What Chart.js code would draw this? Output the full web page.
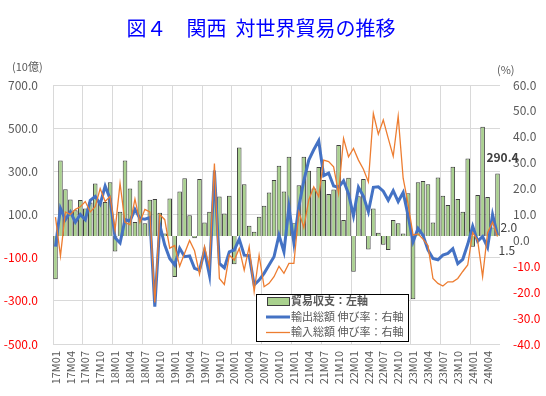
<!DOCTYPE html>
<html>
<head>
<meta charset="utf-8">
<script src="https://cdn.jsdelivr.net/npm/chart.js@4.4.1/dist/chart.umd.min.js"></script>
<style>
html, body { margin: 0; padding: 0; background: #fff; }
#wrap { width: 546px; height: 396px; }
</style>
</head>
<body>
<div id="wrap"><canvas id="chart" width="546" height="396"></canvas></div>
<script>
// 17M01 .. 24M06
const YEARS = ["17", "18", "19", "20", "21", "22", "23", "24"];
const MONTHS = ["01", "02", "03", "04", "05", "06", "07", "08", "09", "10", "11", "12"];
const LAST_MONTH_COUNT = 6;

// 貿易収支 (10億円)
const BALANCE = [
    -200, 350, 217, 170, 120, 167, 128, 156, 244, 156, 158, 250,
    -72, 113, 350, 221, 65, 257, 60, 168, 172, 108, 12, 174,
    -190, 206, 268, 97, -10, 265, 63, 113, 194, 183, 105, 187,
    -130, 410, 240, 48, 20, 90, 141, 202, 260, 326, 206, 368,
    60, 236, 368, 303, 221, 320, 260, 195, 216, 422, 74, 270,
    -165, 185, 265, -62, 128, 15, -40, -65, 74, 59, 12, 198,
    -293, 250, 255, 240, 63, 272, 187, 144, 321, 172, 113, 360,
    -49, 190, 507, 181, 40, 290.4
];
// 輸出総額 伸び率 (%)
const EXPORT_GROWTH = [
    -2.4, 12.4, 8, 11, 7, 10, 8, 15.5, 17, 14, 21, 16,
    1, -1, 8, 7.5, 12, 8.5, 8.2, 8.8, -25.6, 6, -1.8, -7,
    -9.5, -3, -6.3, -6, -10.8, -11.5, -4, -13.4, 27, -8.9, -10.6, -4.4,
    -3.7, 0.5, -5.7, -5.9, -17.2, -15.3, -12.7, -9.5, -6.3, 2, -4.4, 13,
    -1, 13, 23, 31, 35, 38.5, 25, 26, 21, 20.5, 23, 18,
    9.5, 20.5, 17, 11, 20.5, 20.7, 19, 15.5, 19.2, 15, 18.5, 9.5,
    -0.5, 4.6, 2, -3.7, -7, -7.5, -5.7, -5, -3.2, -9, -7.3, -1.5,
    5.5, -0.3, 1.5, -2.7, 10, 2.0
];
// 輸入総額 伸び率 (%)
const IMPORT_GROWTH = [
    9, -6, 11, 10, 12, 13, 15, 11, 13, 20, 15, 17,
    4, 22, 7, 6, 16, 7, 12, 11, -24, 10, 8, -3,
    -2, -10, -5, 0, -4, -13, -2.4, -10.2, 29.7, -14.7, -17, -5.7,
    -7.6, -3.1, -11.5, -2.4, -19.8, -5.7, -17.9, -16.6, -14, -10, -12.7, -8.9,
    -8.9, 11, 5, 15.6, 20.7, 16.9, 31, 30.4, 28.4, 18.1, 39.4, 32.3,
    35.5, 31, 27.5, 22.6, 49, 41, 46.5, 39.4, 32.5, 48, 24, 14,
    2, 2.5, 0.5, -2, -14.7, -16.6, -17.6, -16, -16, -14.7, -12, -9.5,
    3, 0, -14, 3, 7, 1.5
];

const SERIES_NAMES = ["貿易収支：左軸", "輸出総額 伸び率：右軸", "輸入総額 伸び率：右軸"];
const TITLE = "図４　関西  対世界貿易の推移";

const FONT = "'Noto Sans CJK JP', 'Noto Sans', sans-serif";
const TEXTCOLOR = "#595959";
const GRIDCOLOR = "#d9d9d9";
const NEGCOLOR = "#ff0000";
const BARCOLOR = "#a9d18e";
const BARBORDER = "#3f3f3f";
const BLUE = "#4472c4";
const ORANGE = "#ed7d31";

function getLabels() {
    const res = [];
    YEARS.forEach((y, yi) => {
        const count = yi === YEARS.length - 1 ? LAST_MONTH_COUNT : MONTHS.length;
        for (let m = 0; m < count; m++) {
            res.push(y + "M" + MONTHS[m]);
        }
    });
    return res;
}

const overlay = {
    id: "overlay",
    afterDatasetsDraw(chart) {
        const ctx = chart.ctx;
        ctx.save();
        ctx.textBaseline = "middle";

        // value labels on the last points
        const bar = chart.getDatasetMeta(0).data;
        const lastBar = bar[bar.length - 1];
        ctx.font = "bold 12px " + FONT;
        ctx.fillStyle = "#404040";
        ctx.textAlign = "center";
        ctx.fillText(BALANCE[BALANCE.length - 1].toFixed(1), lastBar.x + 5, lastBar.y - 16);

        ctx.font = "12px " + FONT;
        ctx.textAlign = "left";
        const ex = chart.getDatasetMeta(1).data;
        const lastEx = ex[ex.length - 1];
        ctx.fillText(EXPORT_GROWTH[EXPORT_GROWTH.length - 1].toFixed(1), lastEx.x + 3, lastEx.y - 8);
        const im = chart.getDatasetMeta(2).data;
        const lastIm = im[im.length - 1];
        ctx.fillText(IMPORT_GROWTH[IMPORT_GROWTH.length - 1].toFixed(1), lastIm.x + 1, lastIm.y + 14);
        ctx.restore();
    },
    afterDraw(chart) {
        const ctx = chart.ctx;
        ctx.save();
        ctx.textBaseline = "middle";

        // title
        ctx.font = "20px " + FONT;
        ctx.fillStyle = "#0000ff";
        ctx.textAlign = "center";
        ctx.fillText(TITLE, 261, 28);

        // axis units
        ctx.font = "11px " + FONT;
        ctx.fillStyle = TEXTCOLOR;
        ctx.textAlign = "left";
        ctx.fillText("(10億)", 12, 67);
        ctx.fillText("(%)", 497, 70);

        // legend box
        const bx = 256, by = 294, bw = 152, bh = 47;
        ctx.fillStyle = "#fff";
        ctx.fillRect(bx, by, bw, bh);
        ctx.strokeStyle = "#000";
        ctx.lineWidth = 1;
        ctx.strokeRect(bx + 0.5, by + 0.5, bw, bh);

        ctx.fillStyle = BARCOLOR;
        ctx.fillRect(267, 297, 22, 8);
        ctx.strokeStyle = BARBORDER;
        ctx.strokeRect(267.5, 297.5, 22, 8);

        ctx.lineWidth = 3;
        ctx.strokeStyle = BLUE;
        ctx.beginPath();
        ctx.moveTo(266, 317);
        ctx.lineTo(290, 317);
        ctx.stroke();

        ctx.lineWidth = 1.3;
        ctx.strokeStyle = ORANGE;
        ctx.beginPath();
        ctx.moveTo(266, 332.5);
        ctx.lineTo(290, 332.5);
        ctx.stroke();

        ctx.fillStyle = TEXTCOLOR;
        ctx.font = "bold 11px " + FONT;
        ctx.fillText(SERIES_NAMES[0], 291, 301);
        ctx.font = "11px " + FONT;
        ctx.fillText(SERIES_NAMES[1], 291, 317);
        ctx.fillText(SERIES_NAMES[2], 291, 332);
        ctx.restore();
    }
};

function makeChart() {
    const ctx = document.querySelector("#chart").getContext("2d");
    const configuration = {
        type: "bar",
        data: {
            labels: getLabels(),
            datasets: [{
                label: SERIES_NAMES[0],
                data: BALANCE,
                yAxisID: "y",
                backgroundColor: BARCOLOR,
                borderColor: BARBORDER,
                borderWidth: 1,
                barPercentage: 0.92,
                categoryPercentage: 1,
                order: 3
            }, {
                type: "line",
                label: SERIES_NAMES[1],
                data: EXPORT_GROWTH,
                yAxisID: "y1",
                borderColor: BLUE,
                borderWidth: 3,
                pointRadius: 0,
                tension: 0,
                order: 2
            }, {
                type: "line",
                label: SERIES_NAMES[2],
                data: IMPORT_GROWTH,
                yAxisID: "y1",
                borderColor: ORANGE,
                borderWidth: 1.3,
                pointRadius: 0,
                tension: 0,
                order: 1
            }]
        },
        options: {
            responsive: false,
            animation: false,
            layout: { padding: { top: 85 } },
            scales: {
                x: {
                    offset: true,
                    grid: {
                        offset: true,
                        drawTicks: false,
                        color: (c) => c.index % 6 === 0 ? GRIDCOLOR : "rgba(0,0,0,0)"
                    },
                    border: { display: false },
                    ticks: {
                        autoSkip: false,
                        maxRotation: 90,
                        minRotation: 90,
                        padding: 7,
                        color: TEXTCOLOR,
                        font: { size: 11, family: FONT },
                        callback: function (val, i) {
                            return i % 3 === 0 ? this.getLabelForValue(val) : "";
                        }
                    },
                    afterFit: (s) => { s.height = 52; }
                },
                y: {
                    position: "left",
                    min: -500,
                    max: 700,
                    grid: { color: GRIDCOLOR, drawTicks: false },
                    border: { display: false },
                    ticks: {
                        stepSize: 200,
                        padding: 15,
                        color: (c) => c.tick.value < 0 ? NEGCOLOR : TEXTCOLOR,
                        font: { size: 12, family: FONT },
                        callback: (v) => v.toFixed(1)
                    },
                    afterFit: (s) => { s.width = 53; }
                },
                y1: {
                    position: "right",
                    min: -40,
                    max: 60,
                    grid: { display: false, drawTicks: false },
                    border: { display: false },
                    ticks: {
                        stepSize: 10,
                        padding: 13,
                        color: (c) => c.tick.value < 0 ? NEGCOLOR : TEXTCOLOR,
                        font: { size: 12, family: FONT },
                        callback: (v) => v.toFixed(1)
                    },
                    afterFit: (s) => { s.width = 46; }
                }
            },
            plugins: {
                legend: { display: false },
                tooltip: { enabled: false }
            }
        },
        plugins: [overlay]
    };
    new Chart(ctx, configuration);
}

makeChart();
</script>
</body>
</html>
